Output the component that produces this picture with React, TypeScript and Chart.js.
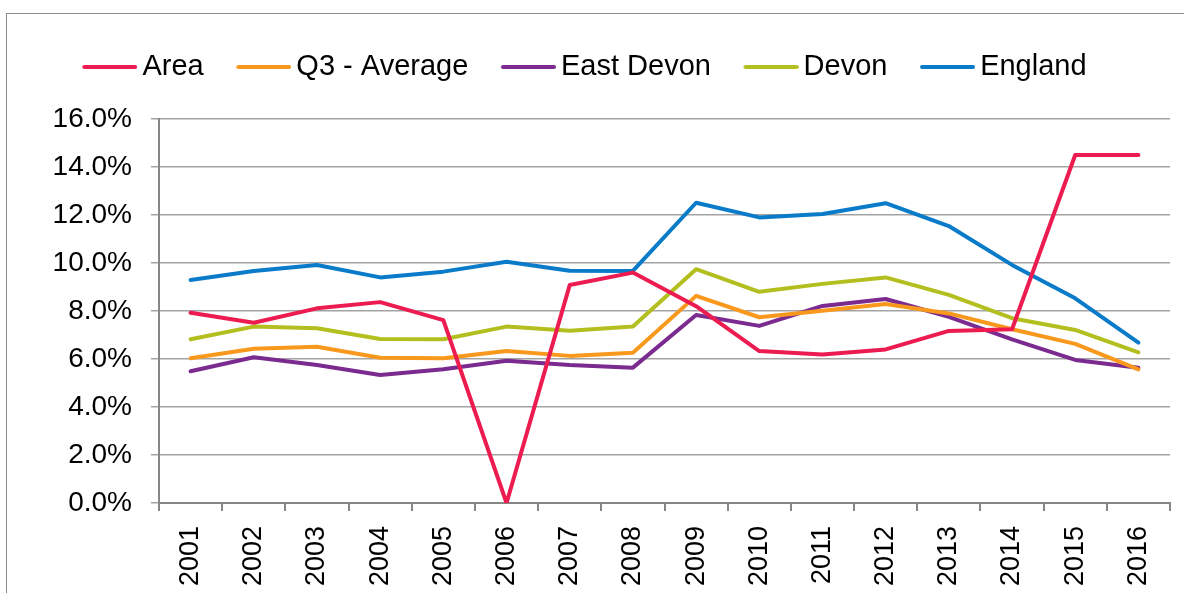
import React, { useEffect, useRef } from 'react';
import { Chart, registerables } from 'chart.js';

Chart.register(...registerables);

const years = ['2001', '2002', '2003', '2004', '2005', '2006', '2007', '2008', '2009', '2010', '2011', '2012', '2013', '2014', '2015', '2016'];
const area = [7.93, 7.51, 8.11, 8.37, 7.62, 0, 9.08, 9.6, 8.2, 6.33, 6.19, 6.4, 7.17, 7.24, 14.5, 14.5];
const q3Average = [6.03, 6.43, 6.51, 6.05, 6.03, 6.33, 6.13, 6.26, 8.63, 7.74, 8.01, 8.29, 7.9, 7.24, 6.63, 5.57];
const eastDevon = [5.49, 6.07, 5.75, 5.33, 5.57, 5.93, 5.75, 5.64, 7.83, 7.38, 8.21, 8.5, 7.76, 6.82, 5.96, 5.64];
const devon = [6.82, 7.35, 7.28, 6.83, 6.82, 7.35, 7.18, 7.35, 9.74, 8.8, 9.13, 9.4, 8.67, 7.7, 7.21, 6.28];
const england = [9.29, 9.67, 9.92, 9.4, 9.64, 10.05, 9.68, 9.67, 12.51, 11.9, 12.04, 12.49, 11.54, 9.92, 8.53, 6.68];

const seriesNames = ['Area', 'Q3 - Average', 'East Devon', 'Devon', 'England'];
const seriesColors = ['#EC1B50', '#F8991D', '#7B2A8F', '#B3BE1F', '#0A7BC9'];
const yMin = 0;
const yMax = 16;
const yStep = 2;

const FONT = "Arial, 'Liberation Sans', sans-serif";

function makeLegendLine(color: string): HTMLCanvasElement {
  const c = document.createElement('canvas');
  c.width = 87;
  c.height = 8;
  const g = c.getContext('2d')!;
  g.strokeStyle = color;
  g.lineWidth = 4;
  g.lineCap = 'round';
  g.beginPath();
  g.moveTo(34, 4);
  g.lineTo(85, 4);
  g.stroke();
  return c;
}

export default function App() {
  const ref = useRef<HTMLCanvasElement | null>(null);

  useEffect(() => {
    if (!ref.current) return;
    const seriesData = [area, q3Average, eastDevon, devon, england];
    const chart = new Chart(ref.current, {
      type: 'line',
      data: {
        labels: years,
        datasets: seriesData.map((d, i) => ({
          label: seriesNames[i],
          data: d,
          borderColor: seriesColors[i],
          backgroundColor: seriesColors[i],
          borderWidth: 4,
          borderCapStyle: 'round',
          borderJoinStyle: 'round',
          tension: 0,
          pointRadius: 0,
          pointHoverRadius: 0,
          pointStyle: makeLegendLine(seriesColors[i]),
          fill: false,
        })),
      },
      options: {
        responsive: false,
        animation: false,
        events: [],
        layout: { padding: { left: 49.7, right: 14, top: 42.5, bottom: 0 } },
        plugins: {
          legend: {
            position: 'top',
            align: 'start',
            labels: {
              usePointStyle: true,
              pointStyleWidth: 68.2,
              boxHeight: 8,
              padding: 10,
              color: '#000',
              font: { size: 29, family: FONT },
            },
          },
          title: {
            display: true,
            text: ' ',
            position: 'top',
            weight: 500,
            font: { size: 10, lineHeight: 1, family: FONT },
            padding: { top: 0, bottom: 17.5 },
          },
          tooltip: { enabled: false },
        },
        scales: {
          x: {
            type: 'category',
            offset: true,
            grid: {
              offset: true,
              drawOnChartArea: false,
              drawTicks: true,
              tickLength: 8,
              color: '#868686',
              lineWidth: 2,
            },
            border: { display: true, color: '#868686', width: 2 },
            ticks: {
              autoSkip: false,
              minRotation: 90,
              maxRotation: 90,
              padding: 15,
              color: '#000',
              font: { size: 27, family: FONT },
            },
            afterFit: (s: any) => {
              s.height = 90;
              s.paddingLeft = 0;
              s.paddingRight = 0;
            },
          },
          y: {
            min: yMin,
            max: yMax,
            ticks: {
              stepSize: yStep,
              padding: 19,
              color: '#000',
              font: { size: 28, family: FONT },
              callback: (v: any) => Number(v).toFixed(1) + '%',
            },
            grid: { color: '#a3a3a3', lineWidth: 1.5, tickLength: 8, drawTicks: true },
            border: { display: true, color: '#868686', width: 2 },
            afterFit: (s: any) => {
              s.width = 109.3;
            },
          },
        },
      } as any,
    });
    return () => chart.destroy();
  }, []);

  return (
    <div style={{ position: 'fixed', left: 0, top: 0, width: 1184, height: 593, overflow: 'hidden', background: '#fff' }}>
      <div
        style={{
          position: 'absolute',
          left: 6,
          top: 13,
          width: 1300,
          height: 700,
          borderLeft: '1.5px solid #8b8b8b',
          borderTop: '1.5px solid #8b8b8b',
          pointerEvents: 'none',
        }}
      />
      <canvas ref={ref} width={1184} height={593} style={{ position: 'absolute', left: 0, top: 0, width: 1184, height: 593 }} />
    </div>
  );
}
